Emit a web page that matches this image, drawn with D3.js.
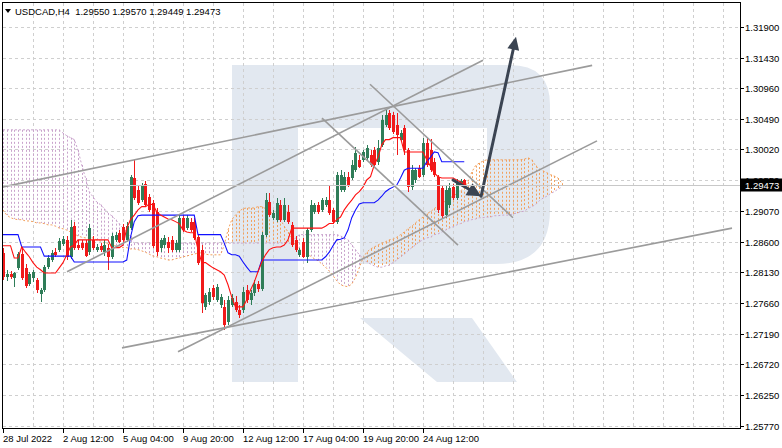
<!DOCTYPE html>
<html><head><meta charset="utf-8">
<script src="https://cdn.jsdelivr.net/npm/d3@7"></script>
<style>
html,body{margin:0;padding:0;background:#fff;}
svg{display:block;}
text{font-family:"Liberation Sans",Arial,sans-serif;}
</style></head><body>
<svg id="c" width="782" height="448"></svg>
<script>
// ---------------- DATA ----------------
const symbolTitle = "USDCAD,H4  1.29550 1.29570 1.29449 1.29473";
const priceTicks = [1.31900,1.31430,1.30960,1.30490,1.30020,1.29550,1.29070,1.28600,1.28130,1.27660,1.27190,1.26720,1.26250,1.25770];
const timeLabels = ["28 Jul 2022","2 Aug 12:00","5 Aug 04:00","9 Aug 20:00","12 Aug 12:00","17 Aug 04:00","19 Aug 20:00","24 Aug 12:00"];
const timeLabelBars = [0,16,32,48,64,80,96,112];
const lastPrice = 1.29473;

const open = [1.2843,1.2806,1.2811,1.2805,1.2820,1.2841,1.2820,1.2795,1.2805,1.2801,
1.2780,1.2786,1.2821,1.2832,1.2844,1.2848,1.2857,1.2863,1.2837,1.2884,
1.2855,1.2858,1.2858,1.2844,1.2863,1.2848,1.2854,1.2844,1.2851,1.2837,
1.2863,1.2874,1.2883,1.2863,1.2881,1.2958,1.2940,1.2924,1.2949,1.2929,
1.2920,1.2906,1.2851,1.2855,1.2860,1.2863,1.2848,1.2848,1.2897,1.2881,
1.2891,1.2891,1.2867,1.2848,1.2760,1.2768,1.2789,1.2771,1.2763,1.2760,
1.2737,1.2763,1.2768,1.2755,1.2755,1.2786,1.2771,1.2781,1.2795,1.2788,
1.2871,1.2921,1.2897,1.2894,1.2917,1.2894,1.2906,1.2886,1.2863,1.2840,
1.2860,1.2837,1.2878,1.2906,1.2917,1.2909,1.2917,1.2924,1.2909,1.2891,
1.2940,1.2940,1.2960,1.2958,1.2970,1.2986,1.2986,1.2989,1.2993,1.3001,
1.2983,1.3009,1.3040,1.3058,1.3055,1.3040,1.3017,1.3035,1.3001,1.2944,
1.2955,1.2973,1.2963,1.3012,1.3001,1.2983,1.2960,1.2943,1.2901,1.2917,
1.2944,1.2927,1.2949,1.29550];
const high = [1.2851,1.2817,1.2815,1.2814,1.2844,1.2852,1.2826,1.2814,1.2817,1.2805,
1.2789,1.2824,1.2840,1.2848,1.2851,1.2866,1.2869,1.2869,1.2894,1.2891,
1.2863,1.2863,1.2863,1.2888,1.2869,1.2857,1.2858,1.2863,1.2857,1.2874,
1.2875,1.2878,1.2888,1.2891,1.2963,1.2986,1.2947,1.2950,1.2953,1.2934,
1.2924,1.2912,1.2866,1.2871,1.2867,1.2869,1.2863,1.2901,1.2901,1.2901,
1.2897,1.2897,1.2872,1.2855,1.2781,1.2789,1.2794,1.2795,1.2780,1.2771,
1.2777,1.2780,1.2777,1.2763,1.2791,1.2794,1.2786,1.2801,1.2800,1.2875,
1.2935,1.2935,1.2909,1.2927,1.2924,1.2927,1.2917,1.2891,1.2869,1.2851,
1.2866,1.2881,1.2924,1.2920,1.2921,1.2927,1.2929,1.2947,1.2912,1.2967,
1.2970,1.2967,1.2967,1.2986,1.3006,1.2993,1.3001,1.3009,1.3001,1.3006,
1.3017,1.3055,1.3063,1.3063,1.3060,1.3058,1.3032,1.3040,1.3004,1.2978,
1.2973,1.2978,1.3020,1.3020,1.3018,1.2989,1.2963,1.2947,1.2946,1.2950,
1.2949,1.2957,1.2957,1.29570];
const low = [1.2801,1.2800,1.2803,1.2791,1.2817,1.2801,1.2789,1.2792,1.2798,1.2782,
1.2768,1.2783,1.2818,1.2829,1.2837,1.2844,1.2854,1.2832,1.2834,1.2848,
1.2848,1.2848,1.2837,1.2840,1.2848,1.2844,1.2844,1.2838,1.2817,1.2834,
1.2860,1.2858,1.2861,1.2860,1.2878,1.2924,1.2917,1.2921,1.2914,1.2906,
1.2851,1.2838,1.2844,1.2851,1.2843,1.2844,1.2844,1.2844,1.2875,1.2878,
1.2875,1.2863,1.2824,1.2751,1.2755,1.2763,1.2771,1.2768,1.2758,1.2725,
1.2732,1.2760,1.2752,1.2743,1.2751,1.2766,1.2763,1.2777,1.2783,1.2784,
1.2867,1.2898,1.2894,1.2891,1.2891,1.2891,1.2888,1.2852,1.2844,1.2837,
1.2835,1.2827,1.2875,1.2903,1.2903,1.2906,1.2914,1.2901,1.2888,1.2888,
1.2937,1.2937,1.2944,1.2955,1.2967,1.2973,1.2983,1.2986,1.2975,1.2975,
1.2978,1.3006,1.3036,1.3032,1.3026,1.2993,1.3014,1.2993,1.2937,1.2940,
1.2950,1.2958,1.2960,1.2975,1.2967,1.2960,1.2904,1.2897,1.2897,1.2912,
1.2924,1.2924,1.2946,1.29449];
const close = [1.2806,1.2811,1.2806,1.2812,1.2841,1.2805,1.2792,1.2811,1.2814,1.2786,
1.2786,1.2821,1.2835,1.2843,1.2840,1.2861,1.2864,1.2837,1.2883,1.2851,
1.2851,1.2851,1.2838,1.2881,1.2851,1.2852,1.2848,1.2855,1.2837,1.2869,
1.2871,1.2860,1.2863,1.2884,1.2960,1.2927,1.2920,1.2947,1.2917,1.2909,
1.2854,1.2844,1.2863,1.2866,1.2851,1.2848,1.2858,1.2897,1.2878,1.2897,
1.2878,1.2866,1.2827,1.2766,1.2778,1.2783,1.2775,1.2791,1.2775,1.2732,
1.2771,1.2774,1.2755,1.2748,1.2783,1.2771,1.2781,1.2795,1.2788,1.2871,
1.2924,1.2901,1.2904,1.2920,1.2894,1.2917,1.2891,1.2855,1.2848,1.2848,
1.2837,1.2878,1.2917,1.2917,1.2906,1.2924,1.2924,1.2904,1.2891,1.2963,
1.2963,1.2960,1.2947,1.2978,1.2997,1.2975,1.2998,1.3004,1.2978,1.2978,
1.3004,1.3047,1.3055,1.3035,1.3029,1.3024,1.3027,1.3001,1.2944,1.2970,
1.2970,1.2960,1.3012,1.2978,1.2970,1.2963,1.2909,1.2900,1.2940,1.2943,
1.2927,1.2952,1.2953,1.29473];

// Ichimoku Tenkan-sen (red) and Kijun-sen (blue)
const tenkan = [1.2854,1.2854,1.2854,1.2835,1.2835,1.2852,1.2844,1.2837,1.2828,1.2821,
1.2817,1.2812,1.2812,1.2812,1.2812,1.2820,1.2828,1.2840,1.2852,1.2855,
1.2863,1.2863,1.2863,1.2863,1.2863,1.2863,1.2863,1.2863,1.2863,1.2851,
1.2851,1.2851,1.2855,1.2881,1.2894,1.2901,1.2909,1.2914,1.2914,1.2918,
1.2917,1.2906,1.2901,1.2898,1.2895,1.2894,1.2891,1.2888,1.2878,1.2875,
1.2874,1.2874,1.2848,1.2828,1.2828,1.2824,1.2820,1.2817,1.2814,1.2809,
1.2794,1.2775,1.2760,1.2760,1.2760,1.2771,1.2786,1.2798,1.2814,1.2829,
1.2840,1.2848,1.2851,1.2852,1.2852,1.2855,1.2863,1.2881,1.2881,1.2881,
1.2881,1.2881,1.2881,1.2881,1.2881,1.2881,1.2884,1.2888,1.2888,1.2894,
1.2898,1.2909,1.2917,1.2924,1.2932,1.2937,1.2944,1.2955,1.2960,1.2978,
1.2990,1.3009,1.3017,1.3017,1.3020,1.3020,1.3020,1.2998,1.2998,1.2998,
1.2998,1.2998,1.2998,1.2986,1.2976,1.2966,1.2960,1.2958,1.2958,1.2958,
1.2958,1.2955,1.2952,1.2947];
const kijun = [1.2871,1.2871,1.2871,1.2871,1.2871,1.2852,1.2852,1.2852,1.2852,1.2852,
1.2852,1.2838,1.2838,1.2838,1.2838,1.2838,1.2838,1.2838,1.2838,1.2829,
1.2829,1.2829,1.2829,1.2829,1.2829,1.2829,1.2829,1.2829,1.2829,1.2829,
1.2829,1.2829,1.2829,1.2832,1.2867,1.2891,1.2900,1.2901,1.2901,1.2901,
1.2901,1.2901,1.2901,1.2901,1.2901,1.2901,1.2901,1.2901,1.2901,1.2901,
1.2901,1.2901,1.2871,1.2871,1.2871,1.2871,1.2871,1.2871,1.2871,1.2858,
1.2843,1.2840,1.2840,1.2838,1.2829,1.2821,1.2814,1.2814,1.2814,1.2832,
1.2832,1.2832,1.2832,1.2832,1.2832,1.2832,1.2832,1.2832,1.2832,1.2832,
1.2832,1.2832,1.2832,1.2832,1.2832,1.2832,1.2837,1.2844,1.2854,1.2863,
1.2864,1.2866,1.2878,1.2897,1.2909,1.2918,1.2920,1.2920,1.2920,1.2920,
1.2924,1.2930,1.2937,1.2941,1.2944,1.2947,1.2958,1.2970,1.2973,1.2973,
1.2973,1.2973,1.2973,1.2983,1.2990,1.2998,1.2997,1.2983,1.2983,1.2983,
1.2983,1.2983,1.2983,1.2983];
// Senkou Span A / B (shifted 26 bars forward)
const spanA = [1.2909,1.2901,1.2897,1.2895,1.2894,1.2894,1.2892,1.2892,1.2891,1.2889,
1.2889,1.2888,1.2886,1.2886,1.2884,1.2881,1.2880,1.2878,1.2875,1.2872,
1.2869,1.2867,1.2866,1.2866,1.2866,1.2863,1.2861,1.2858,1.2857,1.2855,
1.2854,1.2852,1.2851,1.2851,1.2849,1.2849,1.2848,1.2846,1.2844,1.2841,
1.2838,1.2837,1.2835,1.2834,1.2832,1.2832,1.2834,1.2835,1.2837,1.2838,
1.2840,1.2841,1.2843,1.2843,1.2841,1.2840,1.2840,1.2840,1.2840,1.2855,
1.2878,1.2894,1.2901,1.2907,1.2911,1.2912,1.2912,1.2912,1.2914,1.2914,
1.2911,1.2907,1.2903,1.2898,1.2894,1.2884,1.2875,1.2866,1.2855,1.2849,
1.2844,1.2841,1.2838,1.2834,1.2831,1.2826,1.2821,1.2815,1.2808,1.2800,
1.2794,1.2792,1.2791,1.2795,1.2805,1.2820,1.2835,1.2844,1.2849,1.2852,
1.2855,1.2858,1.2860,1.2863,1.2864,1.2867,1.2871,1.2875,1.2880,1.2884,
1.2889,1.2894,1.2898,1.2903,1.2906,1.2911,1.2915,1.2918,1.2923,1.2927,
1.2930,1.2934,1.2938,1.2943,1.2952,1.2967,1.2977,1.2981,1.2984,1.2986,
1.2986,1.2986,1.2986,1.2986,1.2986,1.2986,1.2986,1.2986,1.2986,1.2987,
1.2989,1.2986,1.2977,1.2972,1.2969,1.2966,1.2963,1.2961,1.2958,1.2950];
const spanB = [1.3032,1.3032,1.3032,1.3032,1.3032,1.3032,1.3032,1.3032,1.3032,1.3032,
1.3032,1.3032,1.3032,1.3032,1.3032,1.3032,1.3027,1.3023,1.3020,1.3017,
1.3001,1.2978,1.2958,1.2937,1.2929,1.2921,1.2917,1.2911,1.2904,1.2900,
1.2894,1.2888,1.2881,1.2875,1.2869,1.2858,1.2858,1.2858,1.2858,1.2858,
1.2858,1.2858,1.2858,1.2858,1.2858,1.2858,1.2858,1.2858,1.2858,1.2858,
1.2858,1.2858,1.2858,1.2858,1.2858,1.2858,1.2858,1.2858,1.2858,1.2858,
1.2858,1.2858,1.2858,1.2858,1.2858,1.2858,1.2858,1.2858,1.2858,1.2858,
1.2858,1.2858,1.2858,1.2858,1.2858,1.2858,1.2858,1.2858,1.2866,1.2871,
1.2871,1.2871,1.2871,1.2871,1.2871,1.2871,1.2871,1.2871,1.2871,1.2871,
1.2869,1.2866,1.2863,1.2855,1.2848,1.2840,1.2835,1.2829,1.2826,1.2823,
1.2821,1.2821,1.2823,1.2824,1.2828,1.2832,1.2837,1.2841,1.2846,1.2851,
1.2855,1.2860,1.2863,1.2866,1.2867,1.2871,1.2872,1.2875,1.2878,1.2881,
1.2883,1.2886,1.2888,1.2891,1.2892,1.2894,1.2895,1.2897,1.2897,1.2898,
1.2898,1.2900,1.2900,1.2901,1.2901,1.2901,1.2903,1.2904,1.2906,1.2907,
1.2911,1.2914,1.2917,1.2923,1.2927,1.2930,1.2934,1.2937,1.2941,1.2944];

// drawn analysis objects, in [bar index, price]
const trendLines = [
  [[-0.27,1.2944],[157.1,1.3131]],
  [[17.07,1.2814],[128.0,1.3139]],
  [[46.67,1.2691],[158.4,1.3015]],
  [[31.73,1.2697],[194.4,1.2881]],
  [[97.87,1.3102],[136.0,1.2897]],
  [[85.07,1.3050],[121.33,1.2855]]
];
const forecastArrows = [
  [[120.0,1.2955],[127.5,1.2930]],
  [[127.5,1.2930],[136.8,1.3175]]
];

// ---------------- DRAW ----------------
const svg = d3.select("#c");
const x = d3.scaleLinear().domain([0,196]).range([3,738]);
const y = d3.scaleLinear().domain([1.2577,1.3190]).range([426,27]);
const L=2.5, R=740.5, T=2.5, B=428.5;

svg.append("defs").append("clipPath").attr("id","clip")
  .append("rect").attr("x",L).attr("y",T).attr("width",R-L).attr("height",B-T);

// watermark logo
const wm = svg.append("g").attr("fill","#e2e8f0");
wm.append("path").attr("d","M232,65 H510 Q550,65 550,105 V210 Q550,264 496,264 H360 V190 H487 V128 H298 V382 H232 Z");
wm.append("path").attr("d","M360,318 H472 L517,382 H437 Z");

// grid
const grid = svg.append("g").attr("stroke","#cfcfcf").attr("stroke-dasharray","3,3").attr("shape-rendering","crispEdges");
priceTicks.forEach(t=>{
  const yy = Math.round(y(t))+0.5;
  grid.append("line").attr("x1",L).attr("x2",R).attr("y1",yy).attr("y2",yy);
});
for(let b=8; x(b)<R-2; b+=8){
  const xx = Math.round(x(b))+0.5;
  grid.append("line").attr("x1",xx).attr("x2",xx).attr("y1",T).attr("y2",B);
}

const plot = svg.append("g").attr("clip-path","url(#clip)");

// cloud hatch
const colA = "#f2a05c", colB = "#c9a3cc";
const cloud = plot.append("g").attr("stroke-dasharray","2,2").attr("stroke-width",1);
spanA.forEach((a,i)=>{
  const b = spanB[i];
  const xx = Math.round(x(i))+0.5;
  cloud.append("line").attr("x1",xx).attr("x2",xx)
    .attr("y1",y(Math.max(a,b))).attr("y2",y(Math.min(a,b)))
    .attr("stroke", a>=b ? colA : colB);
});
const line = d3.line().x((d,i)=>x(i)).y(d=>y(d));
plot.append("path").attr("d",line(spanA)).attr("fill","none").attr("stroke",colA).attr("stroke-dasharray","2,2");
plot.append("path").attr("d",line(spanB)).attr("fill","none").attr("stroke",colB).attr("stroke-dasharray","2,2");

// candles
const bull="#2f7d58", bear="#f01a1a";
const cg = plot.append("g").attr("shape-rendering","crispEdges");
open.forEach((o,i)=>{
  const c=close[i], h=high[i], l=low[i];
  const col = c>=o ? bull : bear;
  const cx = Math.round(x(i));
  cg.append("line").attr("x1",cx+0.5).attr("x2",cx+0.5).attr("y1",y(h)).attr("y2",y(l)).attr("stroke",col);
  const top = Math.round(y(Math.max(o,c))), bot = Math.round(y(Math.min(o,c)));
  cg.append("rect").attr("x",cx-1).attr("y",top).attr("width",3).attr("height",Math.max(1,bot-top)).attr("fill",col);
});

// tenkan / kijun
plot.append("path").attr("d",line(kijun)).attr("fill","none").attr("stroke","#1010ff").attr("stroke-width",1.1);
plot.append("path").attr("d",line(tenkan)).attr("fill","none").attr("stroke","#ff1010").attr("stroke-width",1.1);

// current price line
const yl = Math.round(y(lastPrice))+0.5;
svg.append("line").attr("x1",L).attr("x2",R).attr("y1",yl).attr("y2",yl).attr("stroke","#c8c8c8").attr("shape-rendering","crispEdges");

// trend lines
const tl = plot.append("g").attr("stroke","#9b9b9b").attr("stroke-width",1.6).attr("fill","none");
trendLines.forEach(s=>{
  tl.append("line").attr("x1",x(s[0][0])).attr("y1",y(s[0][1])).attr("x2",x(s[1][0])).attr("y2",y(s[1][1]));
});

// forecast arrows
const ac="#3b4452";
const ag = plot.append("g");
forecastArrows.forEach((s,k)=>{
  const x1=x(s[0][0]), y1=y(s[0][1]), x2=x(s[1][0]), y2=y(s[1][1]);
  const dx=x2-x1, dy=y2-y1, len=Math.hypot(dx,dy), ux=dx/len, uy=dy/len;
  const hl = k===0?14:13, hw = k===0?7:6;
  const bx=x2-ux*hl, by=y2-uy*hl;
  ag.append("line").attr("x1",x1).attr("y1",y1).attr("x2",bx+ux*2).attr("y2",by+uy*2)
    .attr("stroke",ac).attr("stroke-width",3).attr("stroke-linecap","round");
  ag.append("path").attr("d",`M${x2},${y2} L${bx-uy*hw},${by+ux*hw} L${bx+uy*hw},${by-ux*hw} Z`).attr("fill",ac);
});

// frame
svg.append("rect").attr("x",L).attr("y",T).attr("width",R-L).attr("height",B-T)
  .attr("fill","none").attr("stroke","#000").attr("shape-rendering","crispEdges");

// right price axis
const ax = svg.append("g").attr("font-size","9.5px").attr("fill","#000");
priceTicks.forEach(t=>{
  const yy = Math.round(y(t))+0.5;
  ax.append("line").attr("x1",R).attr("x2",R+3).attr("y1",yy).attr("y2",yy).attr("stroke","#000").attr("shape-rendering","crispEdges");
  ax.append("text").attr("x",745).attr("y",yy+3.5).text(t.toFixed(5));
});
// last price tag
ax.append("rect").attr("x",741).attr("y",yl-7).attr("width",41).attr("height",13).attr("fill","#000");
ax.append("text").attr("x",745).attr("y",yl+3.5).attr("fill","#fff").text(lastPrice.toFixed(5));

// bottom time axis
const bx = svg.append("g").attr("font-size","9.5px").attr("fill","#000");
timeLabelBars.forEach((b,k)=>{
  const xx = Math.round(x(b))+0.5;
  bx.append("line").attr("x1",xx).attr("x2",xx).attr("y1",B).attr("y2",B+4).attr("stroke","#000").attr("shape-rendering","crispEdges");
  bx.append("text").attr("x",xx-0.5).attr("y",442).text(timeLabels[k]);
});

// title
svg.append("path").attr("d","M5,9 L11,9 L8,13 Z").attr("fill","#000");
svg.append("text").attr("x",15).attr("y",15).attr("font-size","9.5px").attr("fill","#000").attr("xml:space","preserve").style("white-space","pre").text(symbolTitle);
</script>
</body></html>
